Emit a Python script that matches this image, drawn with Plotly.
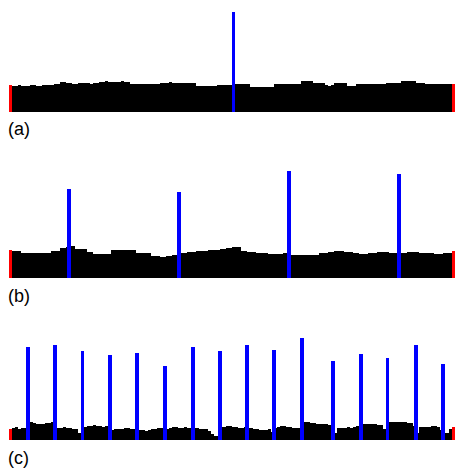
import plotly.graph_objects as go

# Bar heights for each track (first and last entries are the red end markers)
heights_a = [
    27,
    26, 26, 27, 26, 26, 26, 27, 27, 26, 26, 27, 27, 27, 27, 28, 28,
    30, 30,
    29, 29, 28, 28, 29, 29, 29, 29, 28, 29, 29, 30,
    30, 31, 30, 30, 30, 30, 31, 30, 30,
    28, 28, 28, 28,
    28, 28, 28,
    28, 28, 28,
    29, 29, 29, 30, 29, 29, 29, 29, 29, 29, 29, 29,
    26, 26, 26, 26, 26, 26, 26,
    27, 27, 27, 27, 27,
    28,
    28, 28, 28, 28, 28,
    25, 25, 25, 25, 25, 25, 25, 25,
    28, 28, 28, 28, 28, 28, 28, 28, 28,
    31, 31, 31, 31,
    29, 29, 29, 29,
    27, 26, 27,
    29, 29, 29, 29,
    26, 26, 26,
    28, 28, 28, 28, 28, 28, 28, 28, 28, 28,
    29, 29, 29, 29, 29,
    31, 31, 31, 31, 31,
    29, 29, 29,
    28, 28, 28, 28, 28, 28, 28, 28, 28,
    28,
]

heights_b = [
    28,
    27, 27, 27,
    25, 25, 25, 25, 25, 25, 25, 25, 25, 25,
    27, 27, 27,
    30, 30,
    31,
    32, 32,
    29, 29, 29, 29,
    26, 26,
    24, 24, 24, 24, 24, 24,
    28, 28, 28, 28, 28, 28, 28, 28,
    25, 25, 25, 25, 25,
    22, 22, 22, 21, 21, 22, 22, 23, 23,
    24,
    25, 25, 26, 26, 26, 27, 27, 27, 27, 28, 28, 28, 28, 29, 29, 30, 30,
    31, 31, 31,
    27, 27, 26, 26, 26, 25, 25, 25, 25, 24, 24, 24, 24, 24, 25,
    25,
    23, 23, 23, 23, 23, 23, 23, 23, 23, 23,
    25, 25, 25, 26, 26, 27, 27, 27, 26, 26, 26, 25, 25, 24, 24, 24, 25, 25, 25,
    26, 26, 26, 26, 25, 25, 25,
    25,
    25, 25, 26, 26, 26, 26, 25, 25, 25, 25, 25, 24, 24, 24, 25, 25, 25,
    27,
]

heights_c = [
    11,
    12, 13, 11, 12, 12,
    12,
    18, 17,
    16, 16, 16,
    17, 17, 18,
    15,
    12, 12, 13, 12, 12, 11, 11,
    7,
    13,
    13, 14, 14, 15, 14, 14, 13, 14,
    12,
    10, 11, 11, 11, 12, 12, 11, 11,
    11,
    10, 10, 9, 10, 11, 11, 12, 12,
    12,
    11, 12, 13, 13, 12, 12, 13, 12, 12,
    12,
    12, 11, 11, 11, 9, 6, 4, 4,
    13,
    13, 14, 14, 13, 13, 12, 12, 13,
    12,
    12, 11, 11, 10, 10, 10, 11, 8,
    12,
    13, 14, 14, 13, 13, 12, 12, 12,
    17,
    18, 18, 17, 17, 16, 16, 16, 16, 15,
    10,
    7,
    12, 12, 12, 13, 12, 13,
    14,
    14,
    16, 16, 16, 16, 16, 15, 15,
    11,
    14,
    18, 18, 18, 18, 18, 18, 17, 17,
    14,
    7,
    13, 13, 13, 13, 14, 14, 13,
    10,
    7, 7,
    11,
    13,
]

# Peak positions (bar index units) and peak heights for each track
peaks_a_pos = [74.0]
peaks_a_val = [100]

peaks_b_pos = [19.4, 55.8, 92.3, 128.8]
peaks_b_val = [89, 86, 107, 104]

peaks_c_pos = [5.8, 14.8, 23.9, 33.0, 42.0, 51.3, 60.6, 69.5,
               78.5, 87.4, 96.6, 107.1, 116.4, 125.1, 134.6, 143.5]
peaks_c_val = [93, 95, 89, 85, 87, 74, 93, 89,
               95, 90, 102, 79, 86, 82, 95, 76]

labels = ["(a)", "(b)", "(c)"]

W, H = 455, 468
tracks = [
    (heights_a, peaks_a_pos, peaks_a_val, 112, 11, 129),
    (heights_b, peaks_b_pos, peaks_b_val, 278, 170, 296),
    (heights_c, peaks_c_pos, peaks_c_val, 440, 337, 458),
]

fig = go.Figure()
layout_axes = {}
annotations = []
for k, (hts, ppos, pval, base_px, top_px, lab_px) in enumerate(tracks):
    n = len(hts)
    idx = list(range(n))
    colors = ["#ff0000" if (i == 0 or i == n - 1) else "#000000" for i in idx]
    sfx = "" if k == 0 else str(k + 1)
    fig.add_trace(go.Bar(
        x=idx, y=hts, width=1.0,
        marker=dict(color=colors, line=dict(width=0)),
        xaxis="x" + sfx, yaxis="y" + sfx, showlegend=False,
    ))
    fig.add_trace(go.Bar(
        x=ppos, y=pval, width=1.25,
        marker=dict(color="#0000ff", line=dict(width=0)),
        xaxis="x" + sfx, yaxis="y" + sfx, showlegend=False,
    ))
    layout_axes["xaxis" + sfx] = dict(
        domain=[9 / W, 1.0], range=[-0.5, n - 0.5], visible=False,
        anchor="y" + sfx, fixedrange=True,
    )
    layout_axes["yaxis" + sfx] = dict(
        domain=[1 - base_px / H, 1 - top_px / H], range=[0, base_px - top_px],
        visible=False, anchor="x" + sfx, fixedrange=True,
    )
    annotations.append(dict(
        text=labels[k], xref="paper", yref="paper",
        x=6 / W, y=1 - lab_px / H, xanchor="left", yanchor="middle",
        showarrow=False, font=dict(family="Liberation Sans, Arial", size=18, color="#000000"),
    ))

fig.update_layout(
    width=W, height=H,
    margin=dict(l=0, r=0, t=0, b=0),
    paper_bgcolor="white", plot_bgcolor="white",
    barmode="overlay", bargap=0,
    annotations=annotations,
    **layout_axes,
)

fig.write_html("out.html")
